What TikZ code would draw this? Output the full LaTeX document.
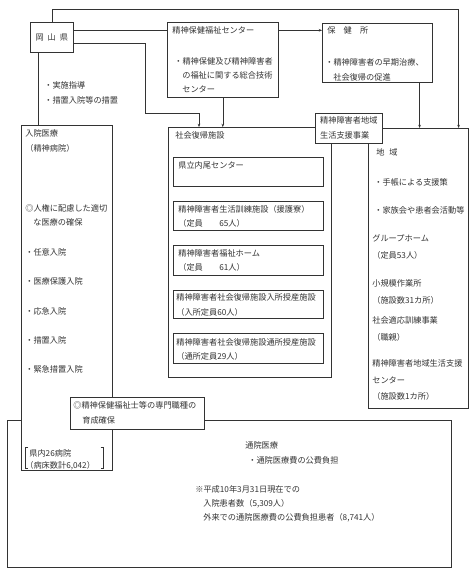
\documentclass[tikz,border=0pt]{standalone}
\usepackage{fontspec}
\newfontfamily\jp{Noto Sans CJK JP}
\usetikzlibrary{arrows.meta}

\tikzset{
  box/.style={draw, fill=white, anchor=north west, inner sep=0pt},
  txt/.style={anchor=west, inner sep=0pt},
  arr/.style={-{Stealth[length=3.2pt,width=2.6pt]}},
}

\begin{document}
\begin{tikzpicture}[x=1pt, y=-1pt, color=black!80, line width=0.6pt,
    every node/.style={font=\jp\fontsize{8.2}{15}\selectfont}]
    \useasboundingbox (0,0) rectangle (472,578);

    % boxes, lowest first
    \node[box, minimum width=444pt, minimum height=147pt] (tsuin) at (7,420) {};
    \node[box, minimum width=91pt, minimum height=345pt] (nyuin) at (21,125) {};
    \node[box, minimum width=134pt, minimum height=32pt] (senmon) at (70,397) {};
    \node[box, minimum width=43pt, minimum height=30pt] (ken) at (30,22) {岡\hspace{4pt}山\hspace{4pt}県};
    \node[box, minimum width=111pt, minimum height=75pt] (center) at (167,22) {};
    \node[box, minimum width=110pt, minimum height=59pt] (hokenjo) at (322,23) {};
    \node[box, minimum width=163pt, minimum height=250pt] (shakai) at (168,127) {};
    \node[box, minimum width=100pt, minimum height=280pt] (chiiki) at (368,128) {};
    \node[box, minimum width=67pt, minimum height=30pt, align=left] (shien) at (315,113) {精神障害者地域\\生活支援事業};

    % boxes inside shakai
    \node[box, minimum width=150pt, minimum height=29pt] (naibi) at (173,157) {};
    \node[box, minimum width=150pt, minimum height=29pt] (kunren) at (173,201) {};
    \node[box, minimum width=150pt, minimum height=30pt] (home) at (173,245) {};
    \node[box, minimum width=150pt, minimum height=28pt] (nyusho) at (173,290) {};
    \node[box, minimum width=150pt, minimum height=30pt] (tsusho) at (173,333) {};

    % bracket round the hospital count
    \node[anchor=north west, inner sep=0pt, minimum width=78pt, minimum height=21pt] (byoin) at (25,447) {};
    \draw[line width=0.5pt] ([xshift=3pt]byoin.north west) -- (byoin.north west) -- (byoin.south west) -- ++(3,0);
    \draw[line width=0.5pt] ([xshift=-3pt]byoin.north east) -- (byoin.north east) -- (byoin.south east) -- ++(-3,0);

    % texts
    \node[txt] at (44,85) {・実施指導};
    \node[txt] at (44,100) {・措置入院等の措置};

    \node[txt] at (172,30) {精神保健福祉センター};
    \node[txt] at (174,61) {・精神保健及び精神障害者};
    \node[txt] at (182,75) {の福祉に関する総合技術};
    \node[txt] at (182,89) {センター};

    \node[txt] at (327,30) {保　健　所};
    \node[txt] at (325,62) {・精神障害者の早期治療、};
    \node[txt] at (333,77) {社会復帰の促進};

    \node[txt] at (175,135) {社会復帰施設};
    \node[txt] at (178,165) {県立内尾センター};
    \node[txt] at (178,209) {精神障害者生活訓練施設（援護寮）};
    \node[txt] at (178,223) {（定員　　65人）};
    \node[txt] at (178,253) {精神障害者福祉ホーム};
    \node[txt] at (178,267) {（定員　　61人）};
    \node[txt] at (176,297) {精神障害者社会復帰施設入所授産施設};
    \node[txt] at (176,312) {（入所定員60人）};
    \node[txt] at (176,342) {精神障害者社会復帰施設通所授産施設};
    \node[txt] at (176,356) {（通所定員29人）};

    \node[txt] at (376,152) {地\hspace{5pt}域};
    \node[txt] at (374,182) {・手帳による支援策};
    \node[txt] at (374,210) {・家族会や患者会活動等};
    \node[txt] at (372,238) {グループホーム};
    \node[txt] at (372,255) {（定員53人）};
    \node[txt] at (372,283) {小規模作業所};
    \node[txt] at (372,300) {（施設数31カ所）};
    \node[txt] at (372,320) {社会適応訓練事業};
    \node[txt] at (372,337) {（職親）};
    \node[txt] at (372,363) {精神障害者地域生活支援};
    \node[txt] at (372,380) {センター};
    \node[txt] at (372,396) {（施設数1カ所）};

    \node[txt] at (25,133) {入院医療};
    \node[txt] at (25,148) {（精神病院）};
    \node[txt] at (25,208) {◎人権に配慮した適切};
    \node[txt] at (33,222) {な医療の確保};
    \node[txt] at (25,252) {・任意入院};
    \node[txt] at (25,281) {・医療保護入院};
    \node[txt] at (25,311) {・応急入院};
    \node[txt] at (25,340) {・措置入院};
    \node[txt] at (25,369) {・緊急措置入院};

    \node[txt] at (73,405) {◎精神保健福祉士等の専門職種の};
    \node[txt] at (82,420) {育成確保};

    \node[txt] at (29,453) {県内26病院};
    \node[txt] at (25,466) {（病床数計6,042）};

    \node[txt] at (245,445) {通院医療};
    \node[txt] at (248,460) {・通院医療費の公費負担};
    \node[txt] at (195,489) {※平成10年3月31日現在での};
    \node[txt] at (203,504) {入院患者数（5,309人）};
    \node[txt] at (203,518) {外来での通院医療費の公費負担患者（8,741人）};

    % connectors
    \draw[arr] (ken.north) -- ++(0,-13) -| ([xshift=-10pt]chiiki.north east);
    \draw ([yshift=7pt]ken.east) coordinate (k1) -- (k1 -| center.west);
    \draw[arr] (k1 -| center.east) -- (k1 -| hokenjo.west);
    \draw[arr] ([yshift=-6pt]ken.east) -- ++(72,0) -- ++(0,70) -| ([xshift=31pt]shakai.north west);
    \draw[arr] (center.south) -- (center.south |- shakai.north);
    \draw[arr] ([xshift=-13pt]hokenjo.south east) coordinate (h1) -- (h1 |- chiiki.north);
    \draw ([xshift=8pt]ken.south west) coordinate (k2) -- (k2 |- nyuin.north);
\end{tikzpicture}
\end{document}
